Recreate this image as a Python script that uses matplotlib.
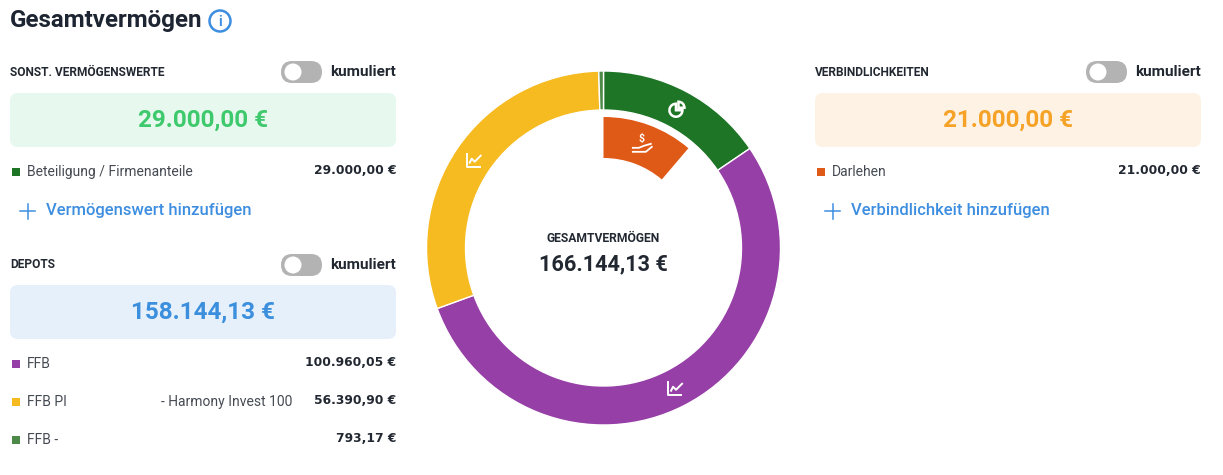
import numpy as np
import matplotlib
matplotlib.use('Agg')
import matplotlib.pyplot as plt
from matplotlib.patches import FancyBboxPatch, Circle, Rectangle, Wedge

plt.rcParams['font.family'] = ['Roboto', 'DejaVu Sans']

W, H = 1223, 475

# data
asset_groups = ['SONST. VERMÖGENSWERTE', 'DEPOTS']
other_labels = ['Beteiligung / Firmenanteile']
other_values = [29000.00]
depot_labels = ['FFB', 'FFB PI', 'FFB -']
depot_notes = ['', '- Harmony Invest 100', '']
depot_values = [100960.054, 56390.903, 793.174]
liab_labels = ['Darlehen']
liab_values = [21000.00]

other_colors = ['#1e7526']
depot_colors = ['#963fa6', '#f6bb21', '#4c8a48']
liab_colors = ['#e05a17']


def eur(v):
    s = f"{v:,.2f}".replace(',', 'X').replace('.', ',').replace('X', '.')
    return s + ' €'


asset_values = other_values + depot_values
asset_colors = other_colors + depot_colors
asset_icons = ['pie', 'chart', 'chart', None]
total_assets = sum(asset_values)
net_worth = total_assets - sum(liab_values)

fig = plt.figure(figsize=(W / 100, H / 100), dpi=100)

# donut
cx, cy, R = 603.5, 248, 177
pax = fig.add_axes([(cx - R) / W, (H - cy - R) / H, 2 * R / W, 2 * R / H])
pax.pie(asset_values, colors=asset_colors, startangle=90, counterclock=False,
        radius=1, wedgeprops=dict(width=39 / R, edgecolor='white', linewidth=1))
liab_rest = total_assets - sum(liab_values)
pax.pie(liab_values + [liab_rest], colors=liab_colors + ['none'], startangle=90,
        counterclock=False, radius=131 / R,
        wedgeprops=dict(width=41 / R, linewidth=0))
pax.set_xlim(-1, 1)
pax.set_ylim(-1, 1)
pax.axis('off')

# overlay in pixel coordinates
ax = fig.add_axes([0, 0, 1, 1])
ax.set_xlim(0, W)
ax.set_ylim(H, 0)
ax.axis('off')

DARK = '#222831'
GREY = '#454a52'
BLUE = '#3d8ee0'

ax.text(10, 21, 'Gesamtvermögen', fontsize=17.4, fontweight='bold', color='#1e2532',
        va='center', ha='left')
ax.add_patch(Circle((220, 21), 10.5, fill=False, ec=BLUE, lw=1.8))
ax.text(220, 22, 'i', fontsize=10, fontweight='bold', color=BLUE, ha='center', va='center')


def toggle(x, y):
    ax.add_patch(FancyBboxPatch((x, y - 11), 41, 22, boxstyle='round,pad=0,rounding_size=11',
                                fc='#b3b3b3', ec='none'))
    ax.add_patch(Circle((x + 12, y), 8.5, fc='white', ec='none'))


def header(x0, x1, y, title):
    ax.text(x0, y, title, fontsize=8.6, fontweight='bold', color=DARK, va='center', ha='left')
    toggle(x1 - 115, y)
    ax.text(x1, y, 'kumuliert', fontsize=11, fontweight='bold', color=DARK,
            va='center', ha='right')


def total_box(x0, x1, y0, value, bg, fg):
    ax.add_patch(FancyBboxPatch((x0, y0), x1 - x0, 54, boxstyle='round,pad=0,rounding_size=8',
                                fc=bg, ec='none'))
    ax.text((x0 + x1) / 2, y0 + 27, eur(value), fontsize=17.5, fontweight='bold', color=fg,
            ha='center', va='center')


def row(x0, x1, y, label, value, color, note=''):
    ax.add_patch(Rectangle((x0 + 2, y - 4), 8, 8, fc=color, ec='none'))
    ax.text(x0 + 17, y, label, fontsize=10, color=GREY, va='center', ha='left')
    if note:
        ax.text(x0 + 282, y, note, fontsize=10, color=GREY, va='center', ha='right')
    ax.text(x1, y - 1.5, eur(value), fontsize=8.8, fontweight='bold', color=DARK,
            family='DejaVu Sans', va='center', ha='right')


def add_link(x0, y, label):
    ax.plot([x0 + 10, x0 + 25], [y, y], color=BLUE, lw=1.1)
    ax.plot([x0 + 17.5, x0 + 17.5], [y - 7.5, y + 7.5], color=BLUE, lw=1.1)
    ax.text(x0 + 36, y, label, fontsize=12, fontweight='medium', color=BLUE,
            va='center', ha='left')


# left column
header(10, 396, 72, asset_groups[0])
total_box(10, 396, 93, sum(other_values), '#e7f8ee', '#3ec96c')
for i, (lab, val) in enumerate(zip(other_labels, other_values)):
    row(10, 396, 172 + 38 * i, lab, val, other_colors[i])
add_link(10, 211, 'Vermögenswert hinzufügen')

header(10, 396, 265, asset_groups[1])
total_box(10, 396, 285, sum(depot_values), '#e6f0fb', '#3b8fdd')
for i, (lab, val) in enumerate(zip(depot_labels, depot_values)):
    row(10, 396, 364 + 38 * i, lab, val, depot_colors[i], depot_notes[i])

# right column
header(815, 1201, 72, 'VERBINDLICHKEITEN')
total_box(815, 1201, 93, sum(liab_values), '#fef2e5', '#f5a226')
for i, (lab, val) in enumerate(zip(liab_labels, liab_values)):
    row(815, 1201, 172 + 38 * i, lab, val, liab_colors[i])
add_link(815, 211, 'Verbindlichkeit hinzufügen')

# centre label
ax.text(cx, 238, 'GESAMTVERMÖGEN', fontsize=8.7, fontweight='bold', color=DARK,
        ha='center', va='center')
ax.text(cx, 264, eur(net_worth), fontsize=15.6, fontweight='bold', color=DARK,
        ha='center', va='center')


# icons at the middle of each wedge
def pos(theta_deg, r):
    t = np.radians(theta_deg)
    return cx + r * np.sin(t), cy - r * np.cos(t)


def chart_icon(x, y):
    s = 7
    ax.plot([x - s, x - s, x + s], [y - s, y + s, y + s], color='white', lw=1.4,
            solid_capstyle='butt')
    ax.plot([x - s + 3, x - 2, x + 1, x + s], [y + s - 4, y - 1, y + 2, y - 4],
            color='white', lw=1.4)


def pie_icon(x, y, color):
    # y axis is inverted: data angles 0..270 are the visual lower/left part
    ax.add_patch(Wedge((x - 1, y + 1), 6.5, 0, 270, fill=False, ec='white', lw=1.8))
    ax.add_patch(Wedge((x + 1.5, y - 1.5), 6, 270, 360, fc=color, ec='white', lw=1.8))


def hand_icon(x, y):
    ax.text(x, y - 5, '$', fontsize=7.5, fontweight='bold', color='white',
            ha='center', va='center')
    ax.plot([x - 9, x - 3, x + 2, x + 9], [y + 4, y + 4, y + 2, y], color='white', lw=1.3)
    ax.plot([x - 9, x + 4, x + 10], [y + 8, y + 8, y + 3], color='white', lw=1.3)


acc = 0
for val, col, icon in zip(asset_values, asset_colors, asset_icons):
    mid = (acc + val / 2) / total_assets * 360
    acc += val
    x, y = pos(mid, 157)
    if icon == 'chart':
        chart_icon(x, y)
    elif icon == 'pie':
        pie_icon(x, y, col)

mid = liab_values[0] / 2 / total_assets * 360
hand_icon(*pos(mid, 111))

fig.savefig('out.png', dpi=100)
